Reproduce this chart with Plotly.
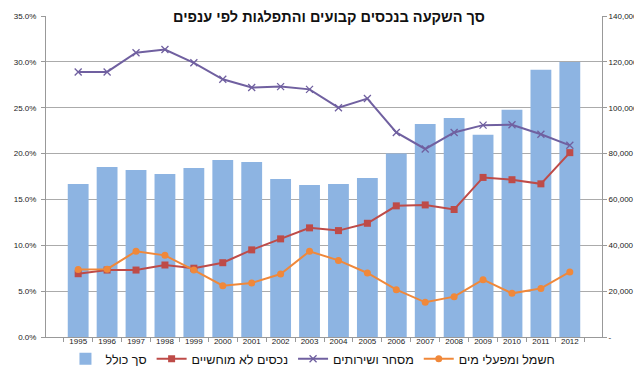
import plotly.graph_objects as go

years = [str(y) for y in range(1995, 2013)]
total = [66700, 74100, 72800, 71100, 73700, 77200, 76300, 68900, 66300, 66700,
         69300, 80000, 92900, 95500, 88200, 99100, 116600, 119900]
intangible = [6.9, 7.3, 7.3, 7.85, 7.5, 8.1, 9.5, 10.7, 11.9, 11.6,
              12.4, 14.3, 14.4, 13.9, 17.4, 17.15, 16.7, 20.1]
trade = [28.9, 28.9, 31.0, 31.35, 29.9, 28.1, 27.2, 27.3, 27.0, 25.0,
         26.0, 22.3, 20.5, 22.3, 23.1, 23.15, 22.1, 20.9]
electric = [7.35, 7.4, 9.35, 8.9, 7.3, 5.6, 5.9, 6.87, 9.35, 8.35,
            6.98, 5.16, 3.78, 4.4, 6.25, 4.76, 5.3, 7.09]

names = ["סך כולל", "נכסים לא מוחשיים", "מסחר ושירותים", "חשמל ומפעלי מים"]
title = "סך השקעה בנכסים קבועים והתפלגות לפי ענפים"
pct_ticks = [0, 5, 10, 15, 20, 25, 30, 35]
right_ticks = [0, 20000, 40000, 60000, 80000, 100000, 120000, 140000]
right_labels = ["-", "20,000", "40,000", "60,000", "80,000", "100,000", "120,000", "140,000"]

FONT = "Liberation Sans, Arial, DejaVu Sans, sans-serif"

fig = go.Figure()
fig.add_trace(go.Bar(x=years, y=total, name=names[0], yaxis="y",
                     marker=dict(color="#8DB4E2", line=dict(width=0))))
fig.add_trace(go.Scatter(x=years, y=[v / 100 for v in intangible], name=names[1],
                         mode="lines+markers", yaxis="y2",
                         line=dict(color="#BE4B48", width=2),
                         marker=dict(symbol="square", size=7, color="#BE4B48")))
fig.add_trace(go.Scatter(x=years, y=[v / 100 for v in trade], name=names[2],
                         mode="lines+markers", yaxis="y2",
                         line=dict(color="#7060A0", width=2),
                         marker=dict(symbol="x-thin", size=7,
                                     line=dict(color="#7060A0", width=1.3))))
fig.add_trace(go.Scatter(x=years, y=[v / 100 for v in electric], name=names[3],
                         mode="lines+markers", yaxis="y2",
                         line=dict(color="#F0883A", width=2),
                         marker=dict(symbol="circle", size=7, color="#F0883A")))

fig.update_layout(
    width=642, height=375,
    margin=dict(l=38, r=48, t=8, b=46, autoexpand=False),
    paper_bgcolor="white", plot_bgcolor="white",
    font=dict(family=FONT, color="#222222"),
    bargap=0.28,
    showlegend=True,
    legend=dict(orientation="h", x=0.035, xanchor="left", xref="paper",
                y=-0.022, yanchor="top", font=dict(size=12.5, color="#111111"),
                itemwidth=30, traceorder="normal", bgcolor="rgba(0,0,0,0)"),
    title=dict(text="<b>" + title + "</b>", x=0.5, xref="container", xanchor="center",
               y=1 - 9 / 375, yref="container", yanchor="middle", pad=dict(t=0, b=0),
               font=dict(size=14.5, color="#111111")),
    xaxis=dict(type="category", showgrid=False, ticks="outside", tickson="boundaries",
               ticklen=4, tickcolor="#999999", showline=True, linecolor="#999999",
               linewidth=1, tickangle=0, ticklabelstandoff=-4,
               tickfont=dict(size=8, color="#222222")),
    yaxis=dict(range=[0, 140000], side="right", tickvals=right_ticks,
               ticktext=right_labels, showgrid=True, gridcolor="#ABABAB", gridwidth=1,
               zeroline=False, showline=True,
               linecolor="#999999", ticks="outside", ticklen=4, tickcolor="#999999",
               tickfont=dict(size=8, color="#222222")),
    yaxis2=dict(range=[0, 0.35], overlaying="y", side="left",
                tickvals=[v / 100 for v in pct_ticks], tickformat=".1%",
                showgrid=False, zeroline=False, ticklabelstandoff=3,
                showline=True, linecolor="#999999", ticks="outside", ticklen=4,
                tickcolor="#999999", tickfont=dict(size=8, color="#222222")),
    shapes=[
        dict(type="rect", xref="paper", yref="paper", x0=-0.2, x1=1.079, y0=-0.128, y1=1.2,
             line=dict(color="#A8A8A8", width=2), fillcolor="rgba(0,0,0,0)", layer="above"),
    ],
)

fig.write_html("out.html")
